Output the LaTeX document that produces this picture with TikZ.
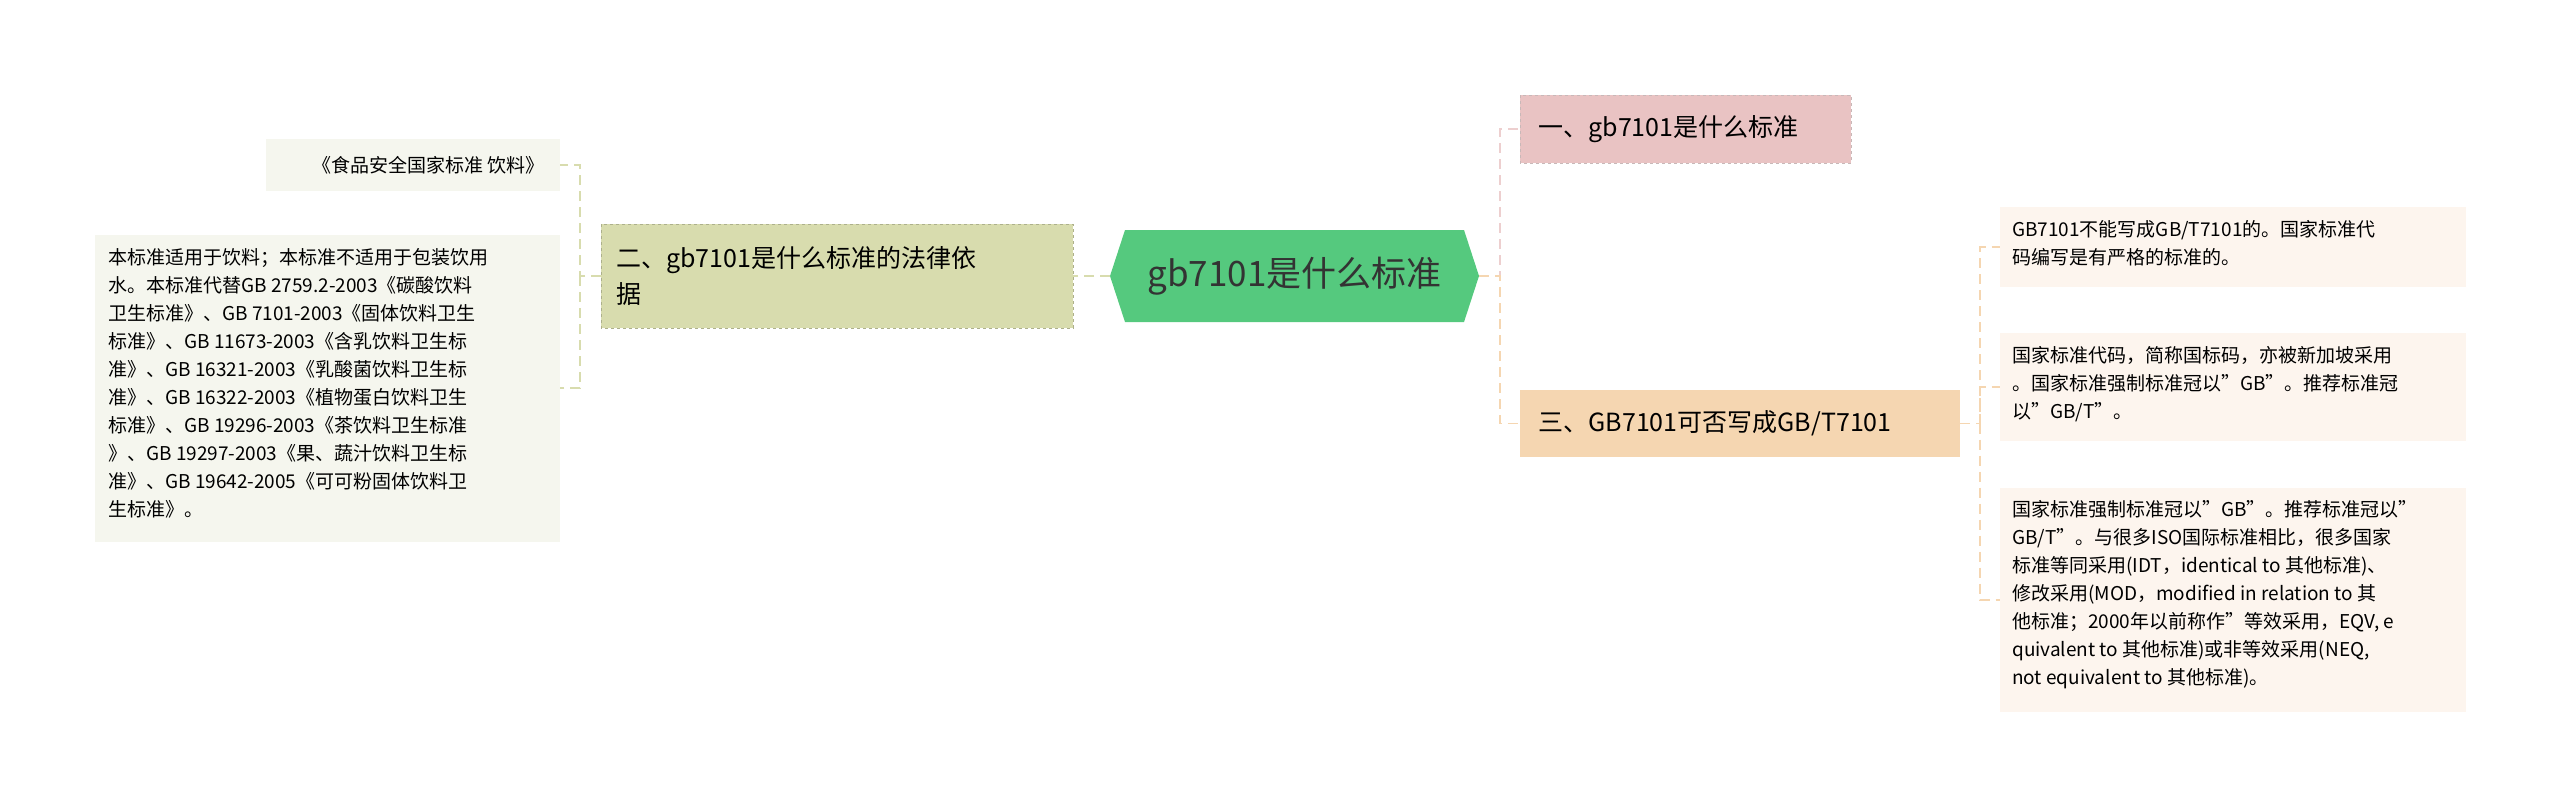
\documentclass[tikz,border=0pt]{standalone}
\usepackage{fontspec}
\setmainfont{Noto Sans CJK SC}
\usetikzlibrary{shapes.geometric}
\begin{document}
\begin{tikzpicture}[x=1pt,y=-1pt,
  leaf/.style={anchor=north west,inner sep=0pt,font=\fontsize{19}{28}\selectfont,align=left},
  conn/.style={dashed,dash pattern=on 10pt off 6pt,line width=1.5pt},
]
\useasboundingbox (0,0) rectangle (2560,807);
\definecolor{rootc}{HTML}{55C97E}
\definecolor{c1}{HTML}{E9C3C3}
\definecolor{c2}{HTML}{D8DCAE}
\definecolor{c3}{HTML}{F5D6B1}
\definecolor{lc}{HTML}{F5F6EE}
\definecolor{rc}{HTML}{FDF5EE}
% root
\fill[rootc] (1125,230) -- (1464,230) -- (1479,276) -- (1464,322) -- (1125,322) -- (1110,276) -- cycle;
\node (root) at (1294.5,276) {\fontsize{35}{40}\selectfont\color{black!80} gb7101是什么标准};
\coordinate (rootR) at (1479,276);
\coordinate (rootL) at (1110,276);
% branches
\fill[c1] (1520,95) rectangle (1851,163);
\draw[c1!70!black!60,dashed] (1520,95) rectangle (1851,163);
\node[anchor=west,font=\fontsize{25}{30}\selectfont] (b1) at (1535,129) {一、gb7101是什么标准};
\fill[c3] (1520,390) rectangle (1960,457);
\node[anchor=west,font=\fontsize{25}{30}\selectfont] (b3) at (1535,423.5) {三、GB7101可否写成GB/T7101};
\fill[c2] (601,224) rectangle (1073,328);
\draw[c2!80!black,dashed] (601,224) rectangle (1073,328);
\node[anchor=north west,font=\fontsize{25}{36}\selectfont,align=left,text width=440pt,inner sep=0pt] (b2) at (616,246) {二、gb7101是什么标准的法律依\\据};
% left leaves
\fill[lc] (266,139) rectangle (560,191);
\node[anchor=east,font=\fontsize{19}{28}\selectfont] (l1) at (548,165) {《食品安全国家标准 饮料》};
\fill[lc] (95,235) rectangle (560,542);
\node[leaf] (l2) at (108,248) {本标准适用于饮料；本标准不适用于包装饮用\\水。本标准代替GB 2759.2-2003《碳酸饮料\\卫生标准》、GB 7101-2003《固体饮料卫生\\标准》、GB 11673-2003《含乳饮料卫生标\\准》、GB 16321-2003《乳酸菌饮料卫生标\\准》、GB 16322-2003《植物蛋白饮料卫生\\标准》、GB 19296-2003《茶饮料卫生标准\\》、GB 19297-2003《果、蔬汁饮料卫生标\\准》、GB 19642-2005《可可粉固体饮料卫\\生标准》。};
% right leaves
\fill[rc] (2000,207) rectangle (2466,287);
\node[leaf] (r1) at (2012,220) {GB7101不能写成GB/T7101的。国家标准代\\码编写是有严格的标准的。};
\fill[rc] (2000,333) rectangle (2466,441);
\node[leaf] (r2) at (2012,346) {国家标准代码，简称国标码，亦被新加坡采用\\。国家标准强制标准冠以"GB"。推荐标准冠\\以"GB/T"。};
\fill[rc] (2000,488) rectangle (2466,712);
\node[leaf] (r3) at (2012,500) {国家标准强制标准冠以"GB"。推荐标准冠以"\\GB/T"。与很多ISO国际标准相比，很多国家\\标准等同采用(IDT，identical to 其他标准)、\\修改采用(MOD，modified in relation to 其\\他标准；2000年以前称作"等效采用，EQV, e\\quivalent to 其他标准)或非等效采用(NEQ,\\not equivalent to 其他标准)。};
% connectors
\draw[conn,c1!80] (rootR) -- (1500,276) |- (1520,129);
\draw[conn,c3] (rootR) -- (1500,276) |- (1520,423.5);
\draw[conn,c2] (rootL) -- (1073,276);
\draw[conn,c2] (601,276) -- (580,276) |- (560,165);
\draw[conn,c2] (580,276) |- (560,388);
\draw[conn,c3] (1960,423.5) -- (1980,423.5) |- (2000,247);
\draw[conn,c3] (1980,423.5) |- (2000,387);
\draw[conn,c3] (1980,423.5) |- (2000,600);
\end{tikzpicture}
\end{document}
